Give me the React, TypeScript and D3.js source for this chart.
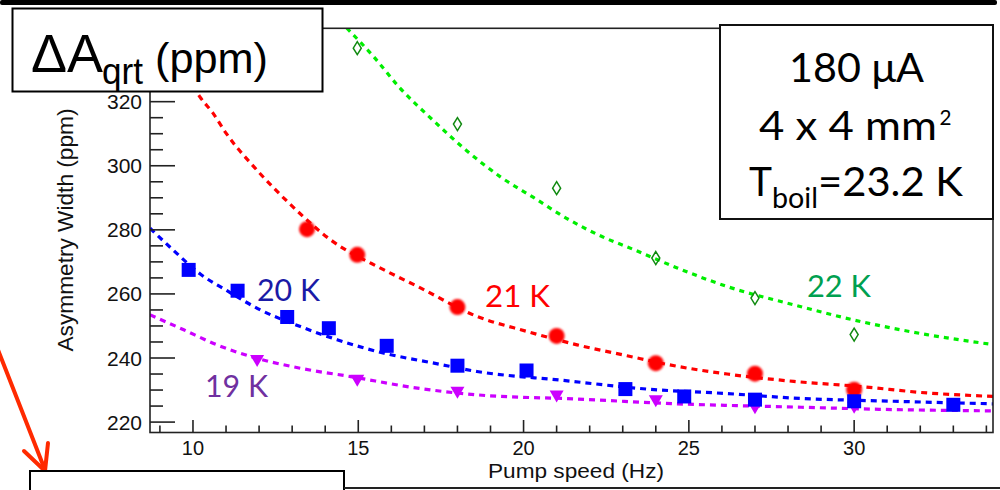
import React, { useEffect } from 'react';
import * as d3 from 'd3';

const W = 1000;
const H = 490;

// axis ticks
const xMajorTicks = [10, 15, 20, 25, 30];
const yMajorTicks = [220, 240, 260, 280, 300, 320];

// measured data points (Hz, ppm)
const blue20Hz = [9.87, 11.35, 12.85, 14.11, 15.86, 18.0, 20.09, 23.08, 24.86, 27.0, 30.0, 33.0];
const blue20Ppm = [267.5, 261.0, 252.8, 249.3, 243.8, 237.6, 236.1, 230.3, 228.0, 227.0, 226.5, 225.4];

const red21Hz = [13.45, 14.97, 18.0, 21.0, 24.0, 27.0, 30.0];
const red21Ppm = [280.2, 272.2, 255.9, 246.9, 238.4, 235.1, 230.1];

const green22Hz = [14.97, 18.0, 21.0, 24.0, 27.0, 30.0];
const green22Ppm = [336.7, 313.0, 293.0, 271.2, 258.7, 247.3];

const mag19Hz = [11.94, 14.97, 18.0, 21.0, 24.0, 27.0, 30.0];
const mag19Ppm = [239.4, 233.2, 229.5, 228.3, 226.8, 224.6, 224.8];

// fit curves (Hz, ppm)
const blueFitHz = [8.7, 9.41, 10.22, 11.03, 12.04, 13.25, 14.36, 15.78, 17.29, 18.59, 21.21, 23.73, 26.16, 28.17, 31.2, 34.2];
const blueFitPpm = [280.5, 273.6, 266.2, 261.0, 255.0, 249.8, 245.7, 241.5, 238.4, 235.8, 233.0, 230.3, 228.9, 227.5, 226.5, 225.7];

const redFitHz = [10.0, 10.21, 10.6, 11.0, 12.0, 13.0, 14.16, 15.78, 16.8, 18.59, 20.1, 21.62, 23.13, 24.65, 26.16, 28.17, 30.19, 32.2, 34.2];
const redFitPpm = [325.0, 321.5, 316.5, 310.2, 297.9, 287.4, 276.9, 267.5, 262.3, 253.0, 248.3, 244.1, 240.7, 237.4, 235.0, 232.7, 231.1, 229.1, 228.0];

const greenFitHz = [14.65, 15.46, 16.24, 17.25, 18.28, 19.29, 20.3, 21.3, 22.37, 23.32, 24.65, 26.16, 28.17, 30.19, 32.2, 34.2];
const greenFitPpm = [343.0, 334.1, 324.5, 314.3, 304.7, 296.6, 290.1, 283.6, 277.9, 273.9, 268.1, 262.3, 256.6, 251.4, 247.3, 244.2];

const magFitHz = [8.7, 9.72, 10.73, 11.74, 13.25, 14.77, 16.79, 18.59, 21.62, 24.65, 28.17, 31.2, 34.2];
const magFitPpm = [253.5, 248.8, 244.1, 240.5, 236.8, 234.2, 230.6, 228.5, 227.2, 225.7, 224.7, 223.9, 223.5];

const zip = (a: number[], b: number[]) => a.map((v, i) => [v, b[i]] as [number, number]);

const ROOT_FONT = "'Liberation Sans', Arial, Helvetica, sans-serif";
const PPT_FONT = "Lato, 'Open Sans', sans-serif";

export default function App() {
  useEffect(() => {
    document.body.style.margin = '0';
  }, []);

  const x = d3.scaleLinear().domain([8.7, 34.2]).range([150, 993]);
  const y = d3.scaleLinear().domain([216.75, 342.9]).range([432.5, 28.3]);

  const line = d3
    .line<[number, number]>()
    .x((d) => x(d[0]))
    .y((d) => y(d[1]))
    .curve(d3.curveMonotoneX);

  const xMinor = d3.range(9, 35).filter((v) => !xMajorTicks.includes(v));
  const yMinor = d3.range(220, 345, 5).filter((v) => !yMajorTicks.includes(v));

  const x0 = x.range()[0];
  const x1 = x.range()[1];
  const yb = y.range()[0];
  const yt = y.range()[1];

  const fits = [
    { d: zip(magFitHz, magFitPpm), color: '#cc00ff', dash: '6 5' },
    { d: zip(blueFitHz, blueFitPpm), color: '#0000ff', dash: '6 5' },
    { d: zip(redFitHz, redFitPpm), color: '#ff0000', dash: '6 5' },
    { d: zip(greenFitHz, greenFitPpm), color: '#00ee00', dash: '5 5' },
  ];

  return (
    <svg width={W} height={H} style={{ position: 'absolute', left: 0, top: 0, background: '#fff' }}>
      <defs>
        <clipPath id="plotClip">
          <rect x={x0} y={yt} width={x1 - x0} height={yb - yt} />
        </clipPath>
        <filter id="blur" x="-50%" y="-50%" width="200%" height="200%">
          <feGaussianBlur stdDeviation="0.9" />
        </filter>
      </defs>

      {/* top black bar */}
      <rect x={0} y={0} width={997} height={5} rx={2} fill="#000" />

      {/* fits */}
      <g clipPath="url(#plotClip)">
        {fits.map((f, i) => (
          <path key={i} d={line(f.d) || ''} fill="none" stroke={f.color} strokeWidth={3.2} strokeDasharray={f.dash} />
        ))}
      </g>

      {/* markers */}
      <g>
        {zip(mag19Hz, mag19Ppm).map(([h, v], i) => {
          const cx = x(h);
          const cy = y(v);
          return <path key={'m' + i} d={`M${cx - 7},${cy - 5}L${cx + 7},${cy - 5}L${cx},${cy + 7}Z`} fill="#cc00ff" />;
        })}
        {zip(red21Hz, red21Ppm).map(([h, v], i) => (
          <circle key={'r' + i} cx={x(h)} cy={y(v)} r={8} fill="#ff0000" filter="url(#blur)" />
        ))}
        {zip(blue20Hz, blue20Ppm).map(([h, v], i) => (
          <rect key={'b' + i} x={x(h) - 7} y={y(v) - 7} width={14} height={14} fill="#0000ff" />
        ))}
        {zip(green22Hz, green22Ppm).map(([h, v], i) => {
          const cx = x(h);
          const cy = y(v);
          return (
            <path
              key={'g' + i}
              d={`M${cx},${cy - 6.5}L${cx + 4},${cy}L${cx},${cy + 6.5}L${cx - 4},${cy}Z`}
              fill="none"
              stroke="#108a10"
              strokeWidth={1.5}
            />
          );
        })}
      </g>

      {/* frame */}
      <rect x={x0} y={yt} width={x1 - x0} height={yb - yt} fill="none" stroke="#222" strokeWidth={1.6} />

      {/* y axis ticks */}
      {yMajorTicks.map((t) => (
        <g key={'yt' + t}>
          <line x1={x0} x2={x0 + 25} y1={y(t)} y2={y(t)} stroke="#222" strokeWidth={1.6} />
          <text x={142} y={y(t) + 7.5} textAnchor="end" fontFamily={ROOT_FONT} fontSize={21} fill="#111">
            {t}
          </text>
        </g>
      ))}
      {yMinor.map((t) => (
        <line key={'ym' + t} x1={x0} x2={x0 + 13} y1={y(t)} y2={y(t)} stroke="#222" strokeWidth={1.6} />
      ))}

      {/* x axis ticks */}
      {xMajorTicks.map((t) => (
        <g key={'xt' + t}>
          <line x1={x(t)} x2={x(t)} y1={yb} y2={yb - 12.5} stroke="#222" strokeWidth={1.6} />
          <text x={x(t)} y={455} textAnchor="middle" fontFamily={ROOT_FONT} fontSize={20} fill="#111">
            {t}
          </text>
        </g>
      ))}
      {xMinor.map((t) => (
        <line key={'xm' + t} x1={x(t)} x2={x(t)} y1={yb} y2={yb - 7} stroke="#222" strokeWidth={1.6} />
      ))}

      {/* axis titles */}
      <text x={576} y={478} textAnchor="middle" fontFamily={ROOT_FONT} fontSize={21} fill="#111" textLength={176} lengthAdjust="spacingAndGlyphs">
        Pump speed (Hz)
      </text>
      <text
        transform="translate(72.5,230) rotate(-90)"
        textAnchor="middle"
        fontFamily={ROOT_FONT}
        fontSize={22}
        fill="#111"
        textLength={243}
        lengthAdjust="spacingAndGlyphs"
      >
        Asymmetry Width (ppm)
      </text>

      {/* series labels */}
      <text x={257} y={300.7} fontFamily={PPT_FONT} fontSize={31} fill="#1a1aa6" textLength={63} lengthAdjust="spacingAndGlyphs">20 K</text>
      <text x={205} y={396.7} fontFamily={PPT_FONT} fontSize={31} fill="#7030a0" textLength={63} lengthAdjust="spacingAndGlyphs">19 K</text>
      <text x={485} y={307.3} fontFamily={PPT_FONT} fontSize={31} fill="#ff0000" textLength={65} lengthAdjust="spacingAndGlyphs">21 K</text>
      <text x={807} y={297.3} fontFamily={PPT_FONT} fontSize={31} fill="#00a050" textLength={64} lengthAdjust="spacingAndGlyphs">22 K</text>

      {/* left title box */}
      <rect x={12.5} y={8.5} width={310} height={83} fill="#fff" stroke="#000" strokeWidth={2} />
      <text x={31} y={72} fontFamily={ROOT_FONT} fontSize={53} fill="#000" textLength={72} lengthAdjust="spacingAndGlyphs">ΔA</text>
      <text x={102} y={83.5} fontFamily={ROOT_FONT} fontSize={36} fill="#000" textLength={41} lengthAdjust="spacingAndGlyphs">qrt</text>
      <text x={155} y={72.5} fontFamily={ROOT_FONT} fontSize={43} fill="#000" textLength={113} lengthAdjust="spacingAndGlyphs">(ppm)</text>

      {/* right info box */}
      <rect x={720} y={25} width={273} height={194} fill="#fff" stroke="#111" strokeWidth={2} />
      <text x={856.5} y={82} textAnchor="middle" fontFamily={PPT_FONT} fontSize={40} fill="#000" textLength={135} lengthAdjust="spacingAndGlyphs">180 μA</text>
      <text x={759} y={140} fontFamily={PPT_FONT} fontSize={40} fill="#000" textLength={178} lengthAdjust="spacingAndGlyphs">4 x 4 mm</text>
      <text x={939.5} y={125} fontFamily={PPT_FONT} fontSize={22} fill="#000" textLength={12} lengthAdjust="spacingAndGlyphs">2</text>
      <text x={749} y={196} fontFamily={PPT_FONT} fontSize={40} fill="#000" textLength={23} lengthAdjust="spacingAndGlyphs">T</text>
      <text x={772} y={208} fontFamily={PPT_FONT} fontSize={28} fill="#000" textLength={46} lengthAdjust="spacingAndGlyphs">boil</text>
      <text x={818} y={196} fontFamily={PPT_FONT} fontSize={40} fill="#000" textLength={145} lengthAdjust="spacingAndGlyphs">=23.2 K</text>

      {/* red arrow */}
      <g stroke="#ff2a00" strokeWidth={4} strokeLinecap="round" fill="none">
        <line x1={-2} y1={350} x2={45} y2={470} />
        <polyline points="24,451 45,471 48,443" strokeLinejoin="round" />
      </g>

      {/* bottom boxes (partially visible) */}
      <rect x={30} y={471} width={314} height={40} fill="#fff" stroke="#000" strokeWidth={2} />
      <line x1={344} y1={488} x2={1000} y2={488} stroke="#222" strokeWidth={2} />
    </svg>
  );
}
